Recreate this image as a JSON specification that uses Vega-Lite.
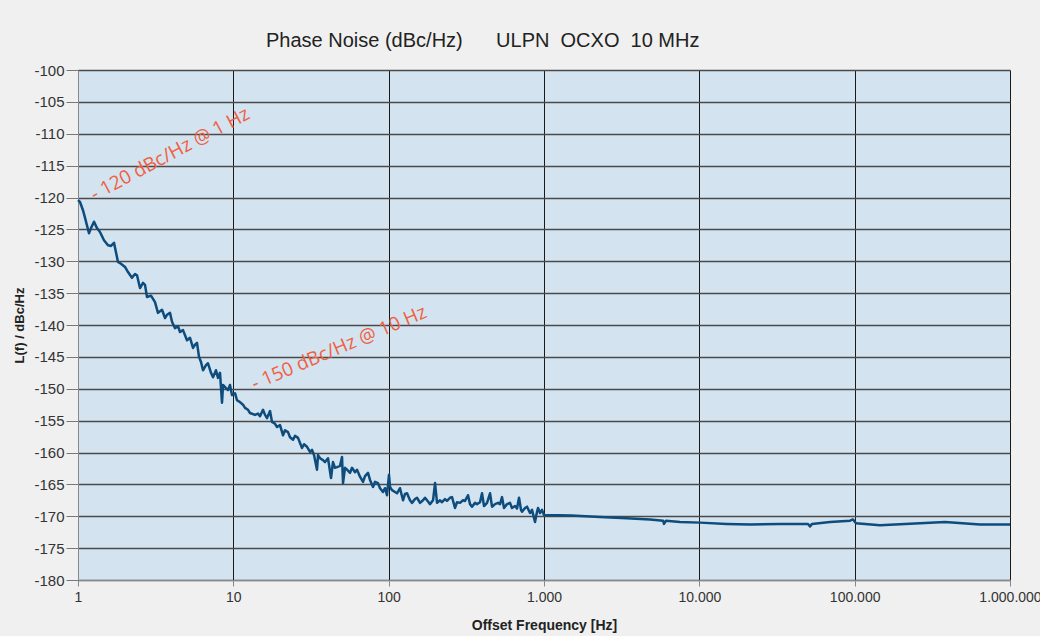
{
  "$schema": "https://vega.github.io/schema/vega-lite/v6.json",
  "width": 932,
  "height": 510,
  "autosize": "none",
  "padding": {"left": 78, "top": 70, "right": 30, "bottom": 56},
  "background": "#f0f0f0",
  "config": {
    "view": {"fill": "#d3e3f0", "stroke": null},
    "font": "Liberation Sans"
  },
  "title": {
    "text": "Phase Noise (dBc/Hz)\u00a0\u00a0\u00a0\u00a0\u00a0\u00a0ULPN\u00a0\u00a0OCXO\u00a0\u00a010 MHz",
    "anchor": "start",
    "frame": "group",
    "dx": 188,
    "offset": 12,
    "fontSize": 20,
    "fontWeight": "normal",
    "color": "#222222",
    "font": "Liberation Sans"
  },
  "encoding": {
    "x": {
      "field": "f", "type": "quantitative",
      "scale": {"type": "log", "domain": [1, 1000000], "nice": false},
      "axis": {
        "title": "Offset Frequency [Hz]",
        "values": [1, 10, 100, 1000, 10000, 100000, 1000000],
        "labelExpr": "replace(format(datum.value, ','), regexp(',', 'g'), '.')",
        "labelFontSize": 14, "labelColor": "#333333", "labelPadding": 4,
        "labelFlush": false, "labelOverlap": false,
        "tickSize": 6, "tickColor": "#888888", "domainColor": "#888888",
        "grid": true, "gridColor": "#1a1a1a", "gridWidth": 1,
        "titleFontSize": 14, "titleFontWeight": "bold", "titleColor": "#222222", "titlePadding": 14
      }
    },
    "y": {
      "field": "db", "type": "quantitative",
      "scale": {"domain": [-180, -100], "nice": false, "zero": false},
      "axis": {
        "title": "L(f) / dBc/Hz",
        "values": [-180, -175, -170, -165, -160, -155, -150, -145, -140, -135, -130, -125, -120, -115, -110, -105, -100],
        "labelExpr": "'-' + abs(datum.value)",
        "labelOverlap": false,
        "labelFontSize": 15, "labelColor": "#333333", "labelPadding": 2,
        "tickSize": 12, "tickColor": "#777777", "domainColor": "#888888",
        "grid": true, "gridColor": "#4a4a4a", "gridWidth": 1.5,
        "titleFontSize": 13, "titleFontWeight": "bold", "titleColor": "#222222", "titlePadding": 7
      }
    }
  },
  "layer": [
    {
      "data": {"values": [
        {"f": 1, "db": -120.4}, {"f": 1.03, "db": -120.7}, {"f": 1.077, "db": -122.0}, {"f": 1.11, "db": -123.2},
        {"f": 1.177, "db": -125.6}, {"f": 1.212, "db": -124.8}, {"f": 1.268, "db": -123.8}, {"f": 1.325, "db": -124.8},
        {"f": 1.385, "db": -125.4}, {"f": 1.47, "db": -126.7}, {"f": 1.56, "db": -127.5}, {"f": 1.631, "db": -127.6},
        {"f": 1.705, "db": -127.1}, {"f": 1.809, "db": -130.1}, {"f": 1.891, "db": -130.4}, {"f": 2.007, "db": -130.9},
        {"f": 2.098, "db": -131.7}, {"f": 2.226, "db": -132.6}, {"f": 2.328, "db": -132.0}, {"f": 2.398, "db": -132.2},
        {"f": 2.507, "db": -134.2}, {"f": 2.621, "db": -133.4}, {"f": 2.7, "db": -133.7}, {"f": 2.781, "db": -135.6},
        {"f": 2.951, "db": -135.4}, {"f": 3.131, "db": -136.4}, {"f": 3.273, "db": -138.1}, {"f": 3.474, "db": -137.6},
        {"f": 3.632, "db": -138.9}, {"f": 3.741, "db": -138.4}, {"f": 3.911, "db": -138.1}, {"f": 4.029, "db": -139.5},
        {"f": 4.212, "db": -140.5}, {"f": 4.404, "db": -140.2}, {"f": 4.537, "db": -141.1}, {"f": 4.743, "db": -140.8},
        {"f": 5.031, "db": -142.4}, {"f": 5.261, "db": -142.0}, {"f": 5.5, "db": -143.6}, {"f": 5.666, "db": -143.1},
        {"f": 5.836, "db": -142.8}, {"f": 6.012, "db": -145.0}, {"f": 6.193, "db": -145.8}, {"f": 6.379, "db": -147.1},
        {"f": 6.669, "db": -146.3}, {"f": 6.87, "db": -146.0}, {"f": 7.182, "db": -147.5}, {"f": 7.398, "db": -148.2},
        {"f": 7.735, "db": -147.1}, {"f": 7.967, "db": -148.3}, {"f": 8.207, "db": -147.5}, {"f": 8.455, "db": -152.2},
        {"f": 8.581, "db": -149.4}, {"f": 8.972, "db": -149.9}, {"f": 9.242, "db": -150.2}, {"f": 9.52, "db": -149.4},
        {"f": 9.804, "db": -151.0}, {"f": 10.25, "db": -150.7}, {"f": 10.56, "db": -151.8}, {"f": 11.04, "db": -152.1},
        {"f": 11.54, "db": -152.5}, {"f": 11.89, "db": -153.0}, {"f": 12.43, "db": -153.3}, {"f": 12.8, "db": -153.8},
        {"f": 13.79, "db": -154.1}, {"f": 14.42, "db": -153.9}, {"f": 14.85, "db": -154.3}, {"f": 15.52, "db": -153.3},
        {"f": 16.0, "db": -154.1}, {"f": 16.48, "db": -154.6}, {"f": 17.23, "db": -153.5}, {"f": 17.74, "db": -155.2},
        {"f": 18.55, "db": -155.5}, {"f": 19.11, "db": -156.0}, {"f": 19.98, "db": -155.7}, {"f": 20.89, "db": -157.3},
        {"f": 21.51, "db": -156.5}, {"f": 22.49, "db": -156.8}, {"f": 23.17, "db": -157.6}, {"f": 24.23, "db": -158.0},
        {"f": 24.96, "db": -157.4}, {"f": 26.09, "db": -157.7}, {"f": 27.68, "db": -159.3}, {"f": 28.51, "db": -158.7},
        {"f": 29.81, "db": -159.1}, {"f": 31.17, "db": -159.9}, {"f": 32.11, "db": -159.6}, {"f": 33.07, "db": -160.4},
        {"f": 34.57, "db": -162.7}, {"f": 35.09, "db": -160.4}, {"f": 36.14, "db": -160.9}, {"f": 37.78, "db": -161.2},
        {"f": 38.92, "db": -161.5}, {"f": 40.69, "db": -160.9}, {"f": 42.54, "db": -164.0}, {"f": 43.82, "db": -161.5},
        {"f": 45.14, "db": -162.4}, {"f": 46.51, "db": -162.3}, {"f": 48.62, "db": -162.1}, {"f": 50.09, "db": -160.7},
        {"f": 50.83, "db": -164.8}, {"f": 52.36, "db": -162.4}, {"f": 53.94, "db": -162.7}, {"f": 56.4, "db": -163.2},
        {"f": 58.08, "db": -162.4}, {"f": 60.72, "db": -163.1}, {"f": 62.55, "db": -162.7}, {"f": 65.39, "db": -163.8},
        {"f": 68.37, "db": -164.6}, {"f": 70.43, "db": -163.7}, {"f": 73.62, "db": -163.2}, {"f": 75.84, "db": -164.3},
        {"f": 79.29, "db": -165.4}, {"f": 81.68, "db": -164.6}, {"f": 85.39, "db": -164.8}, {"f": 87.97, "db": -165.6},
        {"f": 91.96, "db": -166.2}, {"f": 94.74, "db": -165.6}, {"f": 97.57, "db": -166.7}, {"f": 100.5, "db": -163.5},
        {"f": 102.0, "db": -165.4}, {"f": 105.1, "db": -165.9}, {"f": 109.9, "db": -166.2}, {"f": 113.2, "db": -166.4},
        {"f": 118.3, "db": -165.6}, {"f": 123.7, "db": -167.5}, {"f": 127.4, "db": -166.5}, {"f": 131.3, "db": -166.4},
        {"f": 137.2, "db": -167.5}, {"f": 141.4, "db": -167.9}, {"f": 147.8, "db": -167.3}, {"f": 152.2, "db": -167.1},
        {"f": 159.2, "db": -167.9}, {"f": 166.4, "db": -167.5}, {"f": 171.4, "db": -167.1}, {"f": 179.2, "db": -167.7},
        {"f": 184.6, "db": -168.1}, {"f": 193.0, "db": -167.5}, {"f": 198.9, "db": -164.8}, {"f": 204.8, "db": -167.9},
        {"f": 214.1, "db": -167.5}, {"f": 220.5, "db": -167.8}, {"f": 230.5, "db": -167.3}, {"f": 237.5, "db": -167.6},
        {"f": 248.3, "db": -167.1}, {"f": 255.8, "db": -167.0}, {"f": 267.4, "db": -168.7}, {"f": 275.4, "db": -167.8},
        {"f": 288.0, "db": -167.9}, {"f": 301.0, "db": -167.5}, {"f": 310.1, "db": -167.6}, {"f": 324.2, "db": -166.7},
        {"f": 334.0, "db": -168.1}, {"f": 344.0, "db": -168.5}, {"f": 359.6, "db": -167.9}, {"f": 370.5, "db": -168.1},
        {"f": 387.3, "db": -167.8}, {"f": 399.0, "db": -166.4}, {"f": 411.0, "db": -168.4}, {"f": 429.8, "db": -167.9},
        {"f": 449.3, "db": -166.4}, {"f": 462.8, "db": -168.5}, {"f": 483.8, "db": -168.1}, {"f": 505.8, "db": -167.9},
        {"f": 521.1, "db": -168.1}, {"f": 536.8, "db": -167.0}, {"f": 552.8, "db": -168.7}, {"f": 578.0, "db": -168.1},
        {"f": 604.2, "db": -167.9}, {"f": 622.3, "db": -168.7}, {"f": 650.9, "db": -168.4}, {"f": 670.4, "db": -168.8},
        {"f": 690.5, "db": -167.1}, {"f": 711.3, "db": -169.0}, {"f": 721.9, "db": -169.3}, {"f": 754.7, "db": -168.7},
        {"f": 777.5, "db": -168.5}, {"f": 812.8, "db": -169.5}, {"f": 837.3, "db": -169.0}, {"f": 875.3, "db": -170.9},
        {"f": 901.6, "db": -169.3}, {"f": 915.1, "db": -168.7}, {"f": 942.6, "db": -169.5}, {"f": 971.0, "db": -169.0},
        {"f": 1000, "db": -169.8}, {"f": 1500, "db": -169.9}, {"f": 2294, "db": -170.1}, {"f": 3400, "db": -170.3},
        {"f": 4814, "db": -170.5}, {"f": 5837, "db": -170.7}, {"f": 5926, "db": -171.2}, {"f": 6103, "db": -170.7},
        {"f": 7512, "db": -170.9}, {"f": 10100, "db": -171.0}, {"f": 15000, "db": -171.2}, {"f": 21200, "db": -171.3},
        {"f": 33080, "db": -171.2}, {"f": 50080, "db": -171.2}, {"f": 51590, "db": -171.6}, {"f": 53160, "db": -171.2},
        {"f": 69390, "db": -170.9}, {"f": 93350, "db": -170.7}, {"f": 97590, "db": -170.5}, {"f": 102000, "db": -171.1},
        {"f": 145600, "db": -171.4}, {"f": 263500, "db": -171.1}, {"f": 381700, "db": -170.9}, {"f": 641200, "db": -171.3},
        {"f": 1000000, "db": -171.3}
      ]},
      "mark": {"type": "line", "color": "#0d4c7c", "strokeWidth": 2.5, "strokeJoin": "round"}
    },
    {
      "data": {"values": [{"label": "- 120 dBc/Hz @ 1 Hz", "f": 3.91, "db": -113.2}]},
      "mark": {"type": "text", "angle": -28, "fontSize": 19, "color": "#f0603f", "align": "center", "baseline": "middle", "font": "Open Sans"},
      "encoding": {"text": {"field": "label"}}
    },
    {
      "data": {"values": [{"label": "- 150 dBc/Hz @ 10 Hz", "f": 47.9, "db": -143.6}]},
      "mark": {"type": "text", "angle": -23, "fontSize": 19, "color": "#f0603f", "align": "center", "baseline": "middle", "font": "Open Sans"},
      "encoding": {"text": {"field": "label"}}
    }
  ]
}
